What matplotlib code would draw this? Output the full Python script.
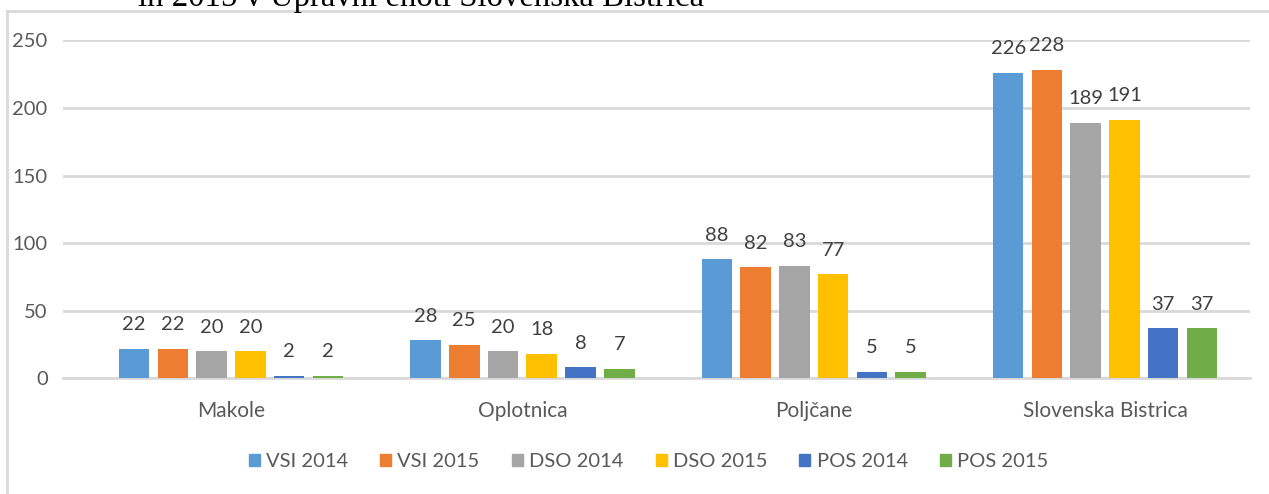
import numpy as np
import matplotlib
matplotlib.use("Agg")
import matplotlib.pyplot as plt
from matplotlib.lines import Line2D
from matplotlib.patches import Patch

plt.rcParams['font.family'] = ['Lato', 'DejaVu Sans']

categories = ['Makole', 'Oplotnica', 'Poljčane', 'Slovenska Bistrica']
series_names = ['VSI 2014', 'VSI 2015', 'DSO 2014', 'DSO 2015', 'POS 2014', 'POS 2015']
vsi_2014 = [22, 28, 88, 226]
vsi_2015 = [22, 25, 82, 228]
dso_2014 = [20, 20, 83, 189]
dso_2015 = [20, 18, 77, 191]
pos_2014 = [2, 8, 5, 37]
pos_2015 = [2, 7, 5, 37]
colors = ['#5B9BD5', '#ED7D31', '#A5A5A5', '#FFC000', '#4472C4', '#70AD47']
yticks = [0, 50, 100, 150, 200, 250]

series = [vsi_2014, vsi_2015, dso_2014, dso_2015, pos_2014, pos_2015]
txt = '#595959'
grid = '#d9d9d9'

fig = plt.figure(figsize=(12.69, 4.94), dpi=100)
ax = fig.add_axes([0.0496, 0.2342, 0.9355, 0.6842])

x = np.arange(len(categories))
slot = 0.133
width = 0.105
for i, (vals, c) in enumerate(zip(series, colors)):
    pos = x + (i - 2.5) * slot
    ax.bar(pos, vals, width=width, color=c, zorder=3)
    for p, v in zip(pos, vals):
        ax.annotate(str(v), (p, v), xytext=(0, 13.4), textcoords='offset points',
                    ha='center', va='baseline', fontsize=14.5, color='#404040')

ax.set_xlim(-0.577, 3.498)
ax.set_ylim(0, 250)
ax.set_yticks(yticks)
ax.set_xticks(x)
ax.set_xticklabels(categories)
ax.yaxis.grid(True, color=grid, linewidth=2)
ax.set_axisbelow(True)
for s in ['top', 'right', 'left']:
    ax.spines[s].set_visible(False)
ax.spines['bottom'].set_color(grid)
ax.spines['bottom'].set_linewidth(2)
ax.tick_params(axis='both', length=0, colors=txt)
ax.tick_params(axis='y', labelsize=14.5, pad=11)
ax.tick_params(axis='x', labelsize=15, pad=16.5)

handles = [Patch(color=c, label=n) for c, n in zip(colors, series_names)]
fig.legend(handles=handles, loc='center', bbox_to_anchor=(0.511, 0.065), ncol=6,
           frameon=False, fontsize=14.5, handlelength=0.55, handleheight=0.55,
           handletextpad=0.3, columnspacing=1.6, labelcolor=txt)

# chart frame (cut by the image edges)
fig.add_artist(Line2D([0.0055, 0.0055], [0, 0.977], color=grid, linewidth=2, transform=fig.transFigure))
fig.add_artist(Line2D([0.0055, 1.0], [0.977, 0.977], color=grid, linewidth=2, transform=fig.transFigure))

# caption above the chart, partly cut off
fig.text(0.109, 0.987, 'in 2015 v Upravni enoti Slovenska Bistrica', fontsize=23.6,
         family='Liberation Serif', color='black', ha='left', va='baseline')

fig.savefig('out.png', dpi=100)
